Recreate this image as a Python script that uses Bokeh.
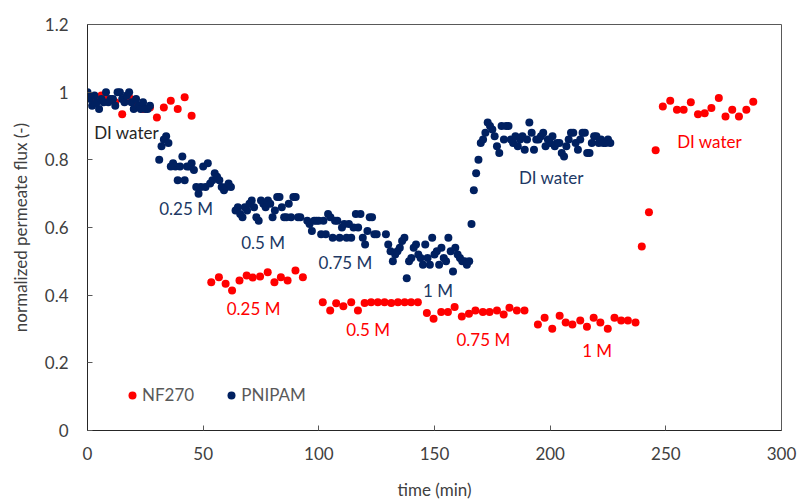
from bokeh.plotting import figure
from bokeh.models import Range1d, Legend, LegendItem, Label, NumeralTickFormatter, FixedTicker
from bokeh.embed import file_html
from bokeh.resources import INLINE

# ---------------- data ----------------
nf270_time = [0, 3, 6, 9, 12, 15, 18, 21, 24, 27, 30, 33, 36, 39, 42, 45,
              53.5, 56.8, 59.7, 62.5, 65.7, 68.8, 71.4, 74.6, 77.9, 80.8, 83.6, 86.5, 89.9, 93.1,
              101.7, 104.9, 107.5, 110.6, 114.0, 116.9, 119.8, 122.6, 125.5, 128.4, 131.3, 134.2, 137.1, 139.9, 142.8,
              146.7, 149.6, 152.9, 155.8, 158.7, 161.8, 164.9, 167.7, 170.9, 173.8, 177.0, 179.9, 182.4, 185.6, 188.9,
              194.7, 197.6, 200.9, 204.1, 206.7, 209.6, 213.0, 215.9, 218.8, 221.7, 224.9, 227.8, 230.7, 233.6, 236.9,
              239.6, 242.7, 245.6,
              248.7, 251.9, 254.8, 257.7, 260.8, 263.9, 266.8, 269.7, 272.9, 275.8, 278.7, 281.6, 284.8, 287.8]
nf270_flux = [0.99, 0.98, 0.99, 0.98, 0.97, 0.935, 0.985, 0.96, 0.95, 0.955, 0.925, 0.955, 0.975, 0.95, 0.985, 0.93,
              0.438, 0.453, 0.434, 0.414, 0.443, 0.458, 0.452, 0.455, 0.468, 0.438, 0.453, 0.443, 0.473, 0.453,
              0.379, 0.355, 0.376, 0.367, 0.379, 0.355, 0.377, 0.379, 0.379, 0.379, 0.377, 0.379, 0.379, 0.379, 0.379,
              0.347, 0.330, 0.350, 0.350, 0.365, 0.337, 0.345, 0.355, 0.350, 0.350, 0.355, 0.343, 0.363, 0.355, 0.355,
              0.313, 0.333, 0.301, 0.339, 0.319, 0.313, 0.325, 0.307, 0.333, 0.319, 0.301, 0.333, 0.325, 0.325, 0.319,
              0.544, 0.645, 0.828,
              0.958, 0.975, 0.948, 0.948, 0.970, 0.935, 0.938, 0.953, 0.983, 0.928, 0.948, 0.928, 0.948, 0.972]

pnipam_time = [0, 1, 2, 3, 4, 5, 6, 7, 8, 9, 10, 11, 12, 13, 14, 15, 16, 17, 18, 19, 20, 21, 22, 23, 24, 25, 26, 27,
               31, 32, 33, 34, 35, 36, 37, 38, 39, 40, 41, 42, 43, 44, 45, 46, 47, 48, 49, 50, 51, 52, 53, 54, 55, 56,
               57, 58, 59, 60, 61, 62,
               64, 65, 66, 67, 68, 69, 70, 71, 72, 73, 74, 75, 76, 77, 78, 79, 80, 81, 82, 83, 84, 85, 86, 87, 88, 89,
               90, 91, 92,
               95, 96, 97, 98, 99, 100, 101, 102, 103, 104, 105, 106, 107, 108, 109, 110, 111, 112, 113, 114, 115, 116,
               117, 118, 119, 120, 121, 122, 123, 124, 125,
               129, 130, 131, 132, 133, 134, 135, 136, 137, 138, 139, 140, 141, 142, 143, 144, 145, 146, 147, 148, 149,
               150, 151, 152, 153, 154, 155, 156, 157, 158, 159, 160, 161, 162, 163, 164, 165,
               166, 167, 168, 169,
               170, 171, 172, 173, 174, 175, 176, 177, 178, 179, 180, 181, 182, 183, 184, 185, 186, 187, 188, 189, 190,
               191, 192, 193, 194, 195, 196, 197, 198, 199, 200, 201, 202, 203, 204, 205, 206, 207, 208, 209, 210, 211,
               212, 213, 214, 215, 216, 217, 218, 219, 220, 221, 222, 223, 224, 225, 226]
pnipam_flux = [1.00, 0.98, 0.96, 0.99, 0.97, 0.95, 0.98, 0.97, 1.00, 0.97, 0.98, 0.98, 0.96, 1.00, 1.00, 0.98, 0.97,
               0.99, 1.00, 0.97, 0.95, 0.98, 0.96, 0.95, 0.97, 0.95, 0.95, 0.96,
               0.80, 0.84, 0.86, 0.87, 0.85, 0.78, 0.79, 0.78, 0.74, 0.78, 0.81, 0.74, 0.78, 0.78, 0.79, 0.77, 0.72, 0.70,
               0.72, 0.78, 0.72, 0.79, 0.73, 0.74, 0.76, 0.75, 0.74, 0.72, 0.71, 0.72, 0.73, 0.72,
               0.65, 0.66, 0.64, 0.63, 0.66, 0.65, 0.67, 0.68, 0.66, 0.63, 0.62, 0.68, 0.67, 0.66, 0.68, 0.67, 0.63, 0.65,
               0.69, 0.69, 0.66, 0.63, 0.63, 0.67, 0.63, 0.69, 0.69, 0.63, 0.63,
               0.62, 0.61, 0.59, 0.62, 0.62, 0.62, 0.58, 0.62, 0.58, 0.64, 0.63, 0.57, 0.62, 0.62, 0.57, 0.60, 0.61, 0.57,
               0.61, 0.57, 0.60, 0.64, 0.60, 0.64, 0.57, 0.55, 0.59, 0.63, 0.63, 0.58, 0.58,
               0.58, 0.55, 0.53, 0.50, 0.52, 0.53, 0.54, 0.56, 0.57, 0.45, 0.50, 0.51, 0.54, 0.55, 0.52, 0.51, 0.49, 0.55,
               0.51, 0.49, 0.57, 0.52, 0.53, 0.49, 0.54, 0.51, 0.50, 0.57, 0.53, 0.47, 0.54, 0.52, 0.51, 0.50, 0.50, 0.49,
               0.50,
               0.61, 0.71, 0.76, 0.80,
               0.85, 0.86, 0.88, 0.91, 0.90, 0.89, 0.87, 0.84, 0.82, 0.90, 0.86, 0.90, 0.90, 0.86, 0.85, 0.87, 0.84, 0.86,
               0.87, 0.83, 0.86, 0.91, 0.88, 0.83, 0.86, 0.86, 0.87, 0.88, 0.84, 0.86, 0.85, 0.87, 0.84, 0.85, 0.85, 0.82,
               0.81, 0.84, 0.86, 0.88, 0.88, 0.85, 0.83, 0.86, 0.88, 0.88, 0.82, 0.82, 0.85, 0.87, 0.87, 0.85, 0.86, 0.85,
               0.85, 0.86, 0.85]

x_ticks = [0, 50, 100, 150, 200, 250, 300]
y_ticks = [0, 0.2, 0.4, 0.6, 0.8, 1.0, 1.2]

ann_text = ["DI water", "0.25 M", "0.5 M", "0.75 M", "1 M", "DI water",
            "0.25 M", "0.5 M", "0.75 M", "1 M", "DI water"]
ann_time = [16.9, 42.6, 75.9, 111.5, 151.5, 200.5, 71.8, 121.3, 171.1, 220.3, 268.9]
ann_flux = [0.882, 0.655, 0.556, 0.497, 0.413, 0.747, 0.360, 0.300, 0.270, 0.236, 0.853]
ann_color = ["#262626", "#203864", "#203864", "#203864", "#203864", "#203864",
             "#FF0000", "#FF0000", "#FF0000", "#FF0000", "#FF0000"]

# ---------------- figure ----------------
FONT = "Lato"
FS = "17px"
RED = "#FF0000"
NAVY = "#002060"

p = figure(width=798, height=502, output_backend="svg", toolbar_location=None,
           x_range=Range1d(0, 300), y_range=Range1d(0, 1.2),
           min_border_left=87, min_border_right=17, min_border_top=24, min_border_bottom=72)
p.grid.visible = False
p.outline_line_color = "#595959"
p.outline_line_width = 1
p.background_fill_color = "white"
p.border_fill_color = "white"

r_red = p.scatter(nf270_time, nf270_flux, size=8, marker="circle",
                  fill_color=RED, line_color=RED, line_width=0)
r_blue = p.scatter(pnipam_time, pnipam_flux, size=8, marker="circle",
                   fill_color=NAVY, line_color=NAVY, line_width=0)

for ax in (p.xaxis[0], p.yaxis[0]):
    ax.axis_line_color = "#262626"
    ax.major_tick_line_color = "#595959"
    ax.major_tick_in = 5
    ax.major_tick_out = 0
    ax.minor_tick_line_color = None
    ax.major_label_text_font = FONT
    ax.major_label_text_font_size = FS
    ax.major_label_text_color = "#404040"
    ax.axis_label_text_font = FONT
    ax.axis_label_text_font_size = FS
    ax.axis_label_text_color = "#404040"
    ax.axis_label_text_font_style = "normal"

p.xaxis.ticker = FixedTicker(ticks=x_ticks)
p.yaxis.ticker = FixedTicker(ticks=y_ticks)
p.yaxis.formatter = NumeralTickFormatter(format="0.[0]")
p.xaxis.axis_label = "time (min)"
p.yaxis.axis_label = "normalized permeate flux (-)"
p.xaxis.major_label_standoff = 16
p.xaxis.axis_label_standoff = 16
p.yaxis.major_label_standoff = 19
p.yaxis.axis_label_standoff = 11

for t, x, y, c in zip(ann_text, ann_time, ann_flux, ann_color):
    p.add_layout(Label(x=x, y=y, text=t, text_align="center", text_baseline="middle",
                       text_color=c, text_font=FONT, text_font_size=FS))

legend = Legend(items=[LegendItem(label="NF270", renderers=[r_red]),
                       LegendItem(label="PNIPAM", renderers=[r_blue])],
                orientation="horizontal", location=(35, 25),
                glyph_width=20, glyph_height=20, label_standoff=0, spacing=27,
                padding=0, margin=0, border_line_alpha=0, background_fill_alpha=0,
                label_text_font=FONT, label_text_font_size=FS, label_text_color="#595959",
                label_height=20)
p.add_layout(legend, "center")

open("out.html", "w").write(file_html(p, INLINE))
